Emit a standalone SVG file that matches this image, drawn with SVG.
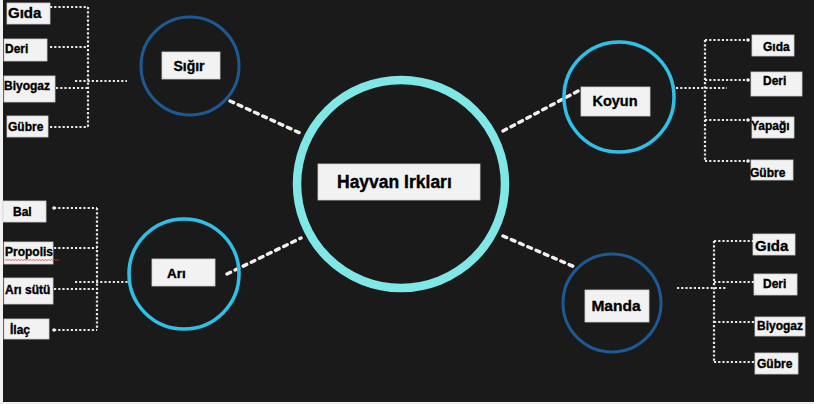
<svg xmlns="http://www.w3.org/2000/svg" width="814" height="404" viewBox="0 0 814 404">
  <style>
    .box { fill: #f2f2f2; stroke: #d0d0d0; stroke-width: 0.8; }
    .lbl { font-family: "Liberation Sans", Arial, sans-serif; font-weight: bold; fill: #000; stroke: #000; stroke-width: 0.35; }
    .dot { fill: none; stroke: #e6e6e6; stroke-width: 2.2; stroke-dasharray: 2.2 2; }
    .spoke { fill: none; stroke: #f0f0f0; stroke-width: 3.4; stroke-dasharray: 4 5; stroke-linecap: round; }
    .end { fill: #f0f0f0; }
  </style>
  <rect x="0" y="0" width="814" height="404" fill="#f2f2f2"/>
  <rect x="3" y="0" width="811" height="402" fill="#1a1a1a"/>

  <!-- connectors -->
  <g id="connectors">
    <!-- spokes from the hub -->
    <line class="spoke" x1="230" y1="101" x2="300" y2="133"/>
    <line class="spoke" x1="227" y1="274" x2="301" y2="238"/>
    <line class="spoke" x1="503" y1="131" x2="578" y2="91"/>
    <line class="spoke" x1="503" y1="236" x2="577" y2="268"/>

    <!-- Sığır branches -->
    <path class="dot" d="M88 7 V128"/>
    <path class="dot" d="M50 7 H88 M50 47 H88 M56 88 H88 M50 127 H88 M75 81 H127"/>

    <!-- Arı branches -->
    <path class="dot" d="M97 208 V330"/>
    <path class="dot" d="M54 208 H97 M54 248 H97 M54 289 H97 M54 330 H97 M75 282 H128"/>
    <circle class="end" cx="54" cy="208" r="1.8"/>
    <circle class="end" cx="54" cy="330" r="1.8"/>

    <!-- Koyun branches -->
    <path class="dot" d="M705 40 V161"/>
    <path class="dot" d="M705 40 H748 M705 80 H748 M705 120 H748 M705 161 H748 M676 88 H727"/>
    <circle class="end" cx="748" cy="40" r="1.8"/>
    <circle class="end" cx="748" cy="80" r="1.8"/>
    <circle class="end" cx="748" cy="120" r="1.8"/>
    <circle class="end" cx="748" cy="161" r="1.8"/>

    <!-- Manda branches -->
    <path class="dot" d="M714 241 V362"/>
    <path class="dot" d="M714 241 H753 M714 282 H754 M714 322 H755 M714 362 H755 M677 288 H727"/>
  </g>

  <!-- hub -->
  <g id="hayvan-irklari">
    <circle cx="401" cy="184" r="104" fill="none" stroke="#7fe8e6" stroke-width="8.5"/>
    <rect class="box" x="318" y="164" width="162" height="36"/>
    <text class="lbl" x="337" y="188" font-size="17.5">Hayvan Irkları</text>
  </g>

  <!-- Sığır -->
  <g id="sigir">
    <circle cx="190" cy="66" r="49" fill="none" stroke="#1d5a94" stroke-width="3"/>
    <rect class="box" x="162" y="52" width="58" height="27"/>
    <text class="lbl" x="189" y="71" font-size="14" text-anchor="middle">Sığır</text>
  </g>
  <g id="sigir-gida">
    <rect class="box" x="7" y="3" width="43" height="21"/>
    <text class="lbl" x="8" y="18" font-size="15">Gıda</text>
  </g>
  <g id="sigir-deri">
    <rect class="box" x="4" y="39" width="43" height="22"/>
    <text class="lbl" x="5" y="53" font-size="12">Deri</text>
  </g>
  <g id="sigir-biyogaz">
    <rect class="box" x="4" y="76" width="51" height="26"/>
    <text class="lbl" x="4" y="90" font-size="12">Biyogaz</text>
  </g>
  <g id="sigir-gubre">
    <rect class="box" x="7" y="116" width="41" height="21"/>
    <text class="lbl" x="8" y="131" font-size="12">Gübre</text>
  </g>

  <!-- Arı -->
  <g id="ari">
    <circle cx="184" cy="274" r="55" fill="none" stroke="#2fc0e8" stroke-width="3.5"/>
    <rect class="box" x="152" y="259" width="63" height="27"/>
    <text class="lbl" x="167" y="278" font-size="13.5">Arı</text>
  </g>
  <g id="ari-bal">
    <rect class="box" x="3" y="201" width="43" height="21"/>
    <text class="lbl" x="13" y="216" font-size="12">Bal</text>
  </g>
  <g id="ari-propolis">
    <rect class="box" x="4" y="242" width="49" height="22"/>
    <text class="lbl" x="5" y="256" font-size="12">Propolis</text>
    <path d="M5 260.5 l1.5 -1 l1.5 1 l1.5 -1 l1.5 1 l1.5 -1 l1.5 1 l1.5 -1 l1.5 1 l1.5 -1 l1.5 1 l1.5 -1 l1.5 1 l1.5 -1 l1.5 1 l1.5 -1 l1.5 1 l1.5 -1 l1.5 1 l1.5 -1 l1.5 1 l1.5 -1 l1.5 1 l1.5 -1 l1.5 1 l1.5 -1 l1.5 1 l1.5 -1 l1.5 1 l1.5 -1 l1.5 1 l1.5 -1 l1.5 1 l1.5 -1 l1.5 1 l1.5 -1 l1.5 1" fill="none" stroke="#e04040" stroke-width="0.8"/>
  </g>
  <g id="ari-ari-sutu">
    <rect class="box" x="4" y="278" width="49" height="26"/>
    <text class="lbl" x="5" y="294" font-size="12">Arı sütü</text>
  </g>
  <g id="ari-ilac">
    <rect class="box" x="4" y="319" width="45" height="20"/>
    <text class="lbl" x="10" y="334" font-size="12">İlaç</text>
  </g>

  <!-- Koyun -->
  <g id="koyun">
    <circle cx="619" cy="97" r="55" fill="none" stroke="#2fc0e8" stroke-width="3.5"/>
    <rect class="box" x="581" y="87" width="69" height="29"/>
    <text class="lbl" x="615" y="106" font-size="14.5" text-anchor="middle">Koyun</text>
  </g>
  <g id="koyun-gida">
    <rect class="box" x="752" y="35" width="42" height="21"/>
    <text class="lbl" x="763" y="51" font-size="12">Gıda</text>
  </g>
  <g id="koyun-deri">
    <rect class="box" x="751" y="72" width="51" height="24"/>
    <text class="lbl" x="763" y="85" font-size="12">Deri</text>
  </g>
  <g id="koyun-yapagi">
    <rect class="box" x="752" y="117" width="42" height="21"/>
    <text class="lbl" x="751" y="130" font-size="12">Yapağı</text>
  </g>
  <g id="koyun-gubre">
    <rect class="box" x="751" y="160" width="42" height="20"/>
    <text class="lbl" x="750" y="177" font-size="12">Gübre</text>
  </g>

  <!-- Manda -->
  <g id="manda">
    <circle cx="612" cy="303" r="49" fill="none" stroke="#1d5a94" stroke-width="3"/>
    <rect class="box" x="585" y="290" width="64" height="32"/>
    <text class="lbl" x="616" y="311" font-size="15.5" text-anchor="middle">Manda</text>
  </g>
  <g id="manda-gida">
    <rect class="box" x="753" y="234" width="42" height="21"/>
    <text class="lbl" x="755" y="251" font-size="15">Gıda</text>
  </g>
  <g id="manda-deri">
    <rect class="box" x="754" y="274" width="43" height="21"/>
    <text class="lbl" x="763" y="288" font-size="12">Deri</text>
  </g>
  <g id="manda-biyogaz">
    <rect class="box" x="755" y="317" width="50" height="19"/>
    <text class="lbl" x="757" y="330" font-size="12">Biyogaz</text>
  </g>
  <g id="manda-gubre">
    <rect class="box" x="755" y="353" width="43" height="21"/>
    <text class="lbl" x="757" y="368" font-size="12">Gübre</text>
  </g>
</svg>
